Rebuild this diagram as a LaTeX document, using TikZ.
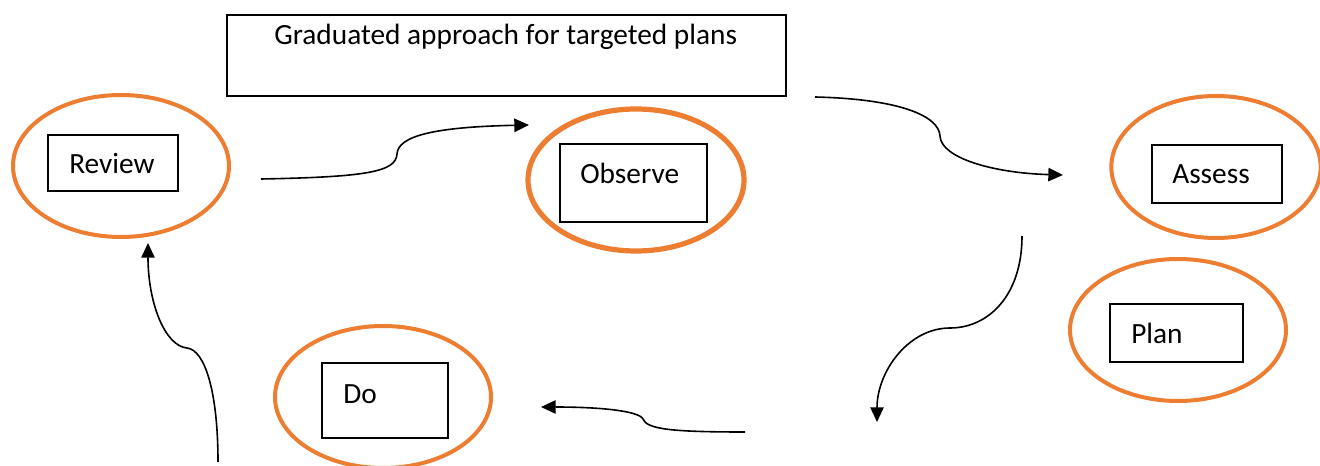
\documentclass[tikz,border=0pt]{standalone}
\usepackage{fontspec}
\setmainfont{Carlito}
\usetikzlibrary{shapes.geometric,arrows.meta}
\definecolor{orng}{HTML}{ED7D31}
\begin{document}
\begin{tikzpicture}[x=0.75pt,y=-0.75pt,
  oval/.style={ellipse,draw=orng,line width=3pt,fill=white,minimum width=162pt,minimum height=106.5pt,inner sep=0pt},
  bigoval/.style={oval,line width=3.9pt},
  stepbox/.style={draw=black,line width=1.3pt,inner sep=0pt},
  lbl/.style={anchor=base west,inner sep=0pt,font=\fontsize{22pt}{26pt}\selectfont},
  conn/.style={line width=1.2pt,-{Triangle[length=11pt,width=10pt]}}]
\useasboundingbox (0,0) rectangle (1320,466);
% ellipses
\node[oval] (revE) at (121,166) {};
\node[bigoval] (obsE) at (636,180) {};
\node[oval,minimum width=157pt] (assE) at (1216,167) {};
\node[oval] (planE) at (1178,330) {};
\node[oval] (doE) at (383,397) {};
% boxes
\node[stepbox,minimum width=419.25pt,minimum height=60.75pt] (titleB) at (506.5,55.5) {};
\node[stepbox,minimum width=97.5pt,minimum height=42pt] (revB) at (113,163) {};
\node[stepbox,minimum width=110.25pt,minimum height=58.5pt] (obsB) at (633.5,183) {};
\node[stepbox,minimum width=97.5pt,minimum height=43.5pt] (assB) at (1217,174) {};
\node[stepbox,minimum width=99.75pt,minimum height=43.5pt] (planB) at (1176.5,333) {};
\node[stepbox,minimum width=94.5pt,minimum height=56.25pt] (doB) at (385,400.5) {};
% labels
\node[lbl] (titleT) at (274,45) {Graduated approach for targeted plans};
\node[lbl] (revT) at (69,174) {Review};
\node[lbl] (obsT) at (580,184) {Observe};
\node[lbl] (assT) at (1172,184) {Assess};
\node[lbl] (planT) at (1131,344) {Plan};
\node[lbl] (doT) at (343,403) {Do};
% connector coordinates
\coordinate (a1s) at (261,179); \coordinate (a1k) at (397,154); \coordinate (a1e) at (529,125);
\coordinate (a2s) at (815,97);  \coordinate (a2k) at (940,136); \coordinate (a2e) at (1063,175);
\coordinate (a3s) at (1022,236); \coordinate (a3k) at (950,328); \coordinate (a3e) at (877,422);
\coordinate (a4s) at (745,432); \coordinate (a4k) at (643,419); \coordinate (a4e) at (541,407);
\coordinate (a5s) at (218,462); \coordinate (a5k) at (187,348); \coordinate (a5e) at (148,243);
% connectors
\draw[conn] (a1s) .. controls +(105,-2) and +(-1,18) .. (a1k) .. controls +(1,-18) and +(-95,2) .. (a1e);
\draw[conn] (a2s) .. controls +(85,2) and +(-1,-20) .. (a2k) .. controls +(1,22) and +(-70,-2) .. (a2e);
\draw[conn] (a3s) .. controls +(0,60) and +(38,0) .. (a3k) .. controls +(-42,0) and +(0,-50) .. (a3e);
\draw[conn] (a4s) .. controls +(-75,0) and +(4,10) .. (a4k) .. controls +(-4,-8) and +(60,0) .. (a4e);
\draw[conn] (a5s) .. controls +(0,-70) and +(18,2) .. (a5k) .. controls +(-22,-2) and +(0,60) .. (a5e);
\end{tikzpicture}
\end{document}
